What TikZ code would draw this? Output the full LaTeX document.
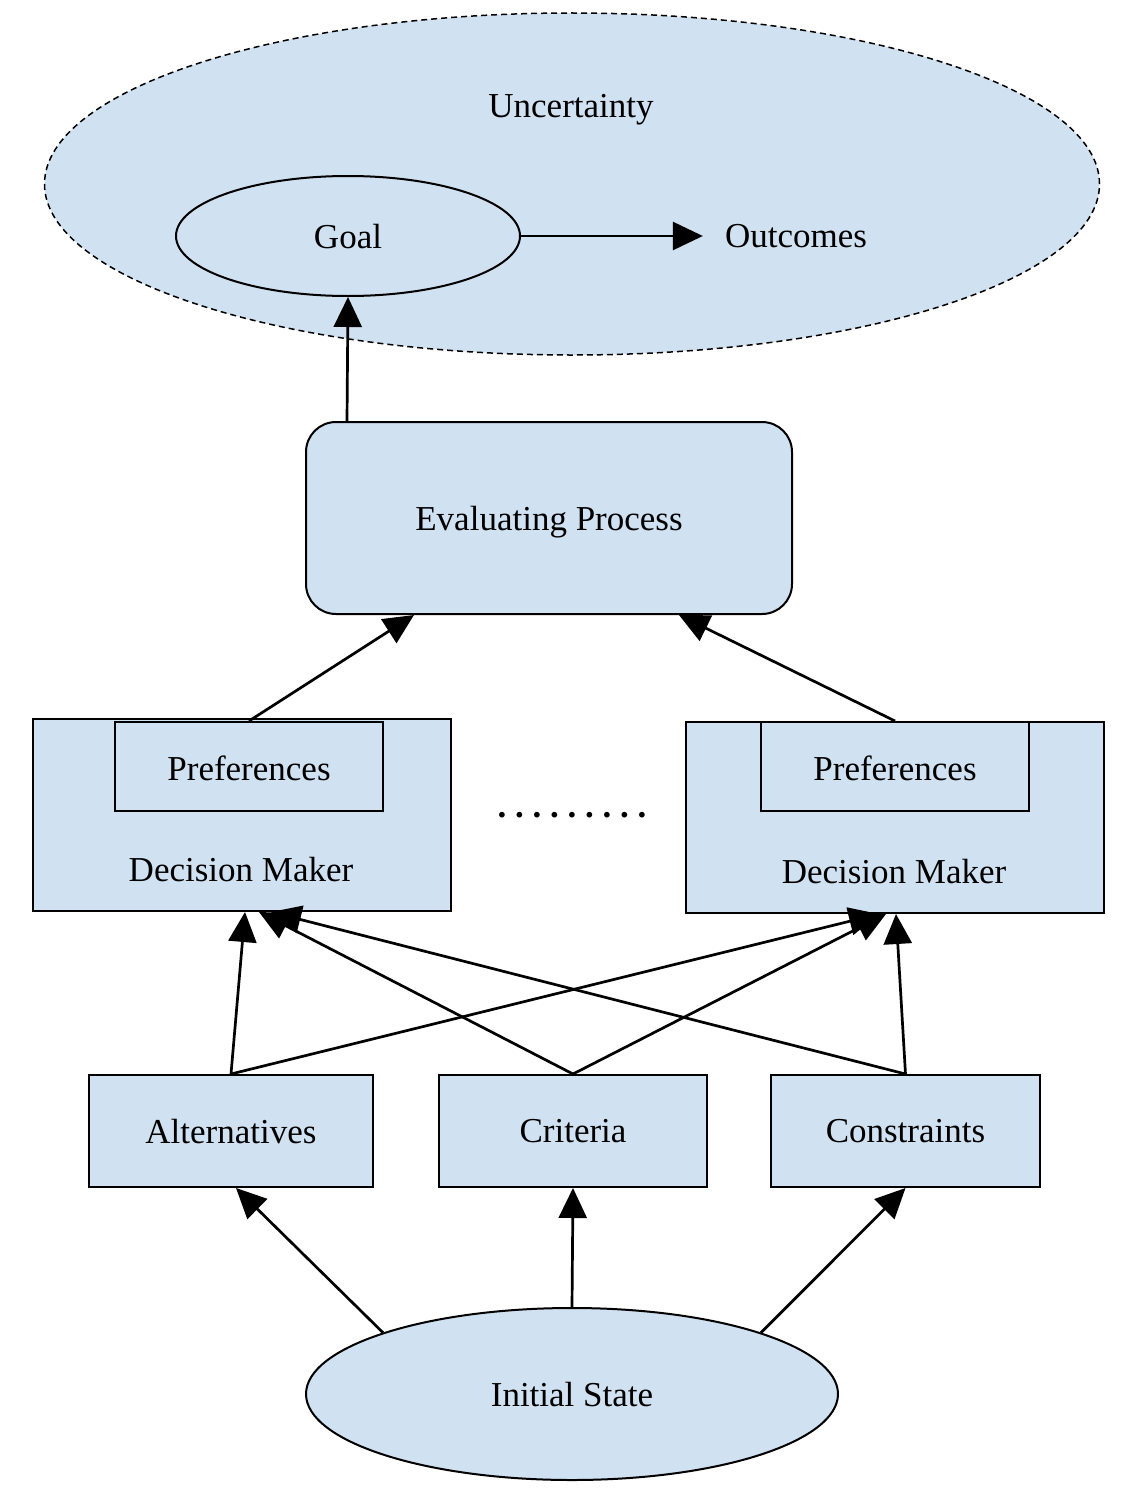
\documentclass[tikz,border=0pt]{standalone}
\usepackage{fontspec}
\setmainfont{Liberation Serif}
\usetikzlibrary{shapes.geometric,arrows.meta}
\definecolor{boxblue}{RGB}{208,225,241}
\frenchspacing
\begin{document}
\begin{tikzpicture}[x=1pt,y=-1pt,
  every node/.style={font=\fontsize{35}{40}\selectfont, inner sep=0pt, text depth=0pt},
  bx/.style={draw, line width=2pt, fill=boxblue, rectangle},
  ov/.style={draw, line width=2pt, fill=boxblue, ellipse},
  con/.style={line width=2.7pt, -{Triangle[length=30pt,width=28pt]}}]
\useasboundingbox (0,0) rectangle (1140,1488);

% uncertainty cloud
\node[ov, dashed, line width=1.5pt, dash pattern=on 6pt off 4pt, minimum width=1055pt, minimum height=342pt] (unc) at (572,184) {};
\node (unct) at (571,106) {Uncertainty};
\node[ov, minimum width=344pt, minimum height=120pt] (goal) at (348,236) {Goal};
\node (outc) at (796,236) {Outcomes};
\draw[con, shorten >=22pt] (goal.east) -- (outc.west);

% evaluating process
\node[bx, rounded corners=30pt, minimum width=486pt, minimum height=192pt] (ep) at (549,518) {Evaluating Process};
\coordinate (epTop) at ([xshift=42pt]ep.north west);
\draw[con] (epTop) -- (goal.south);

% decision makers
\node[bx, minimum width=418pt, minimum height=192pt] (dmL) at (242,815) {};
\node[bx, minimum width=268pt, minimum height=89pt] (prefL) at (249,766.5) {\raisebox{-3pt}{Preferences}};
\node (dmLt) at (241,869) {Decision Maker};

\node[bx, minimum width=418pt, minimum height=191pt] (dmR) at (895,817.5) {};
\node[bx, minimum width=268pt, minimum height=89pt] (prefR) at (895,766.5) {\raisebox{-3pt}{Preferences}};
\node (dmRt) at (894,871) {Decision Maker};

\node[font=\fontsize{35}{40}\selectfont\bfseries] (dots) at (572,815) {. . . . . . . . .};

\coordinate (epL) at ([xshift=109pt]ep.south west);
\coordinate (epR) at ([xshift=374pt]ep.south west);
\draw[con] (prefL.north) -- (epL);
\draw[con] (prefR.north) -- (epR);

% inputs
\node[bx, minimum width=284pt, minimum height=112pt] (alt) at (231,1131) {Alternatives};
\node[bx, minimum width=268pt, minimum height=112pt] (crit) at (573,1131) {Criteria};
\node[bx, minimum width=269pt, minimum height=112pt] (cons) at (905.5,1131) {Constraints};

\coordinate (dL1) at ([xshift=213pt]dmL.south west);
\coordinate (dL2) at ([xshift=227pt]dmL.south west);
\coordinate (dL3) at ([xshift=239pt]dmL.south west);
\coordinate (dR1) at ([xshift=194pt]dmR.south west);
\coordinate (dR2) at ([xshift=201pt]dmR.south west);
\coordinate (dR3) at ([xshift=211pt]dmR.south west);

\draw[con] (alt.north) -- (dL1);
\draw[con] (crit.north) -- (dL2);
\draw[con] (cons.north) -- (dL3);
\draw[con] (alt.north) -- (dR1);
\draw[con] (crit.north) -- (dR2);
\draw[con] (cons.north) -- (dR3);

% initial state
\node[ov, minimum width=532pt, minimum height=172pt] (init) at (572,1394) {Initial State};
\draw[con] (init.162) -- ([xshift=5pt]alt.south);
\draw[con] (init.north) -- (crit.south);
\draw[con] (init.18) -- (cons.south);
\end{tikzpicture}
\end{document}
